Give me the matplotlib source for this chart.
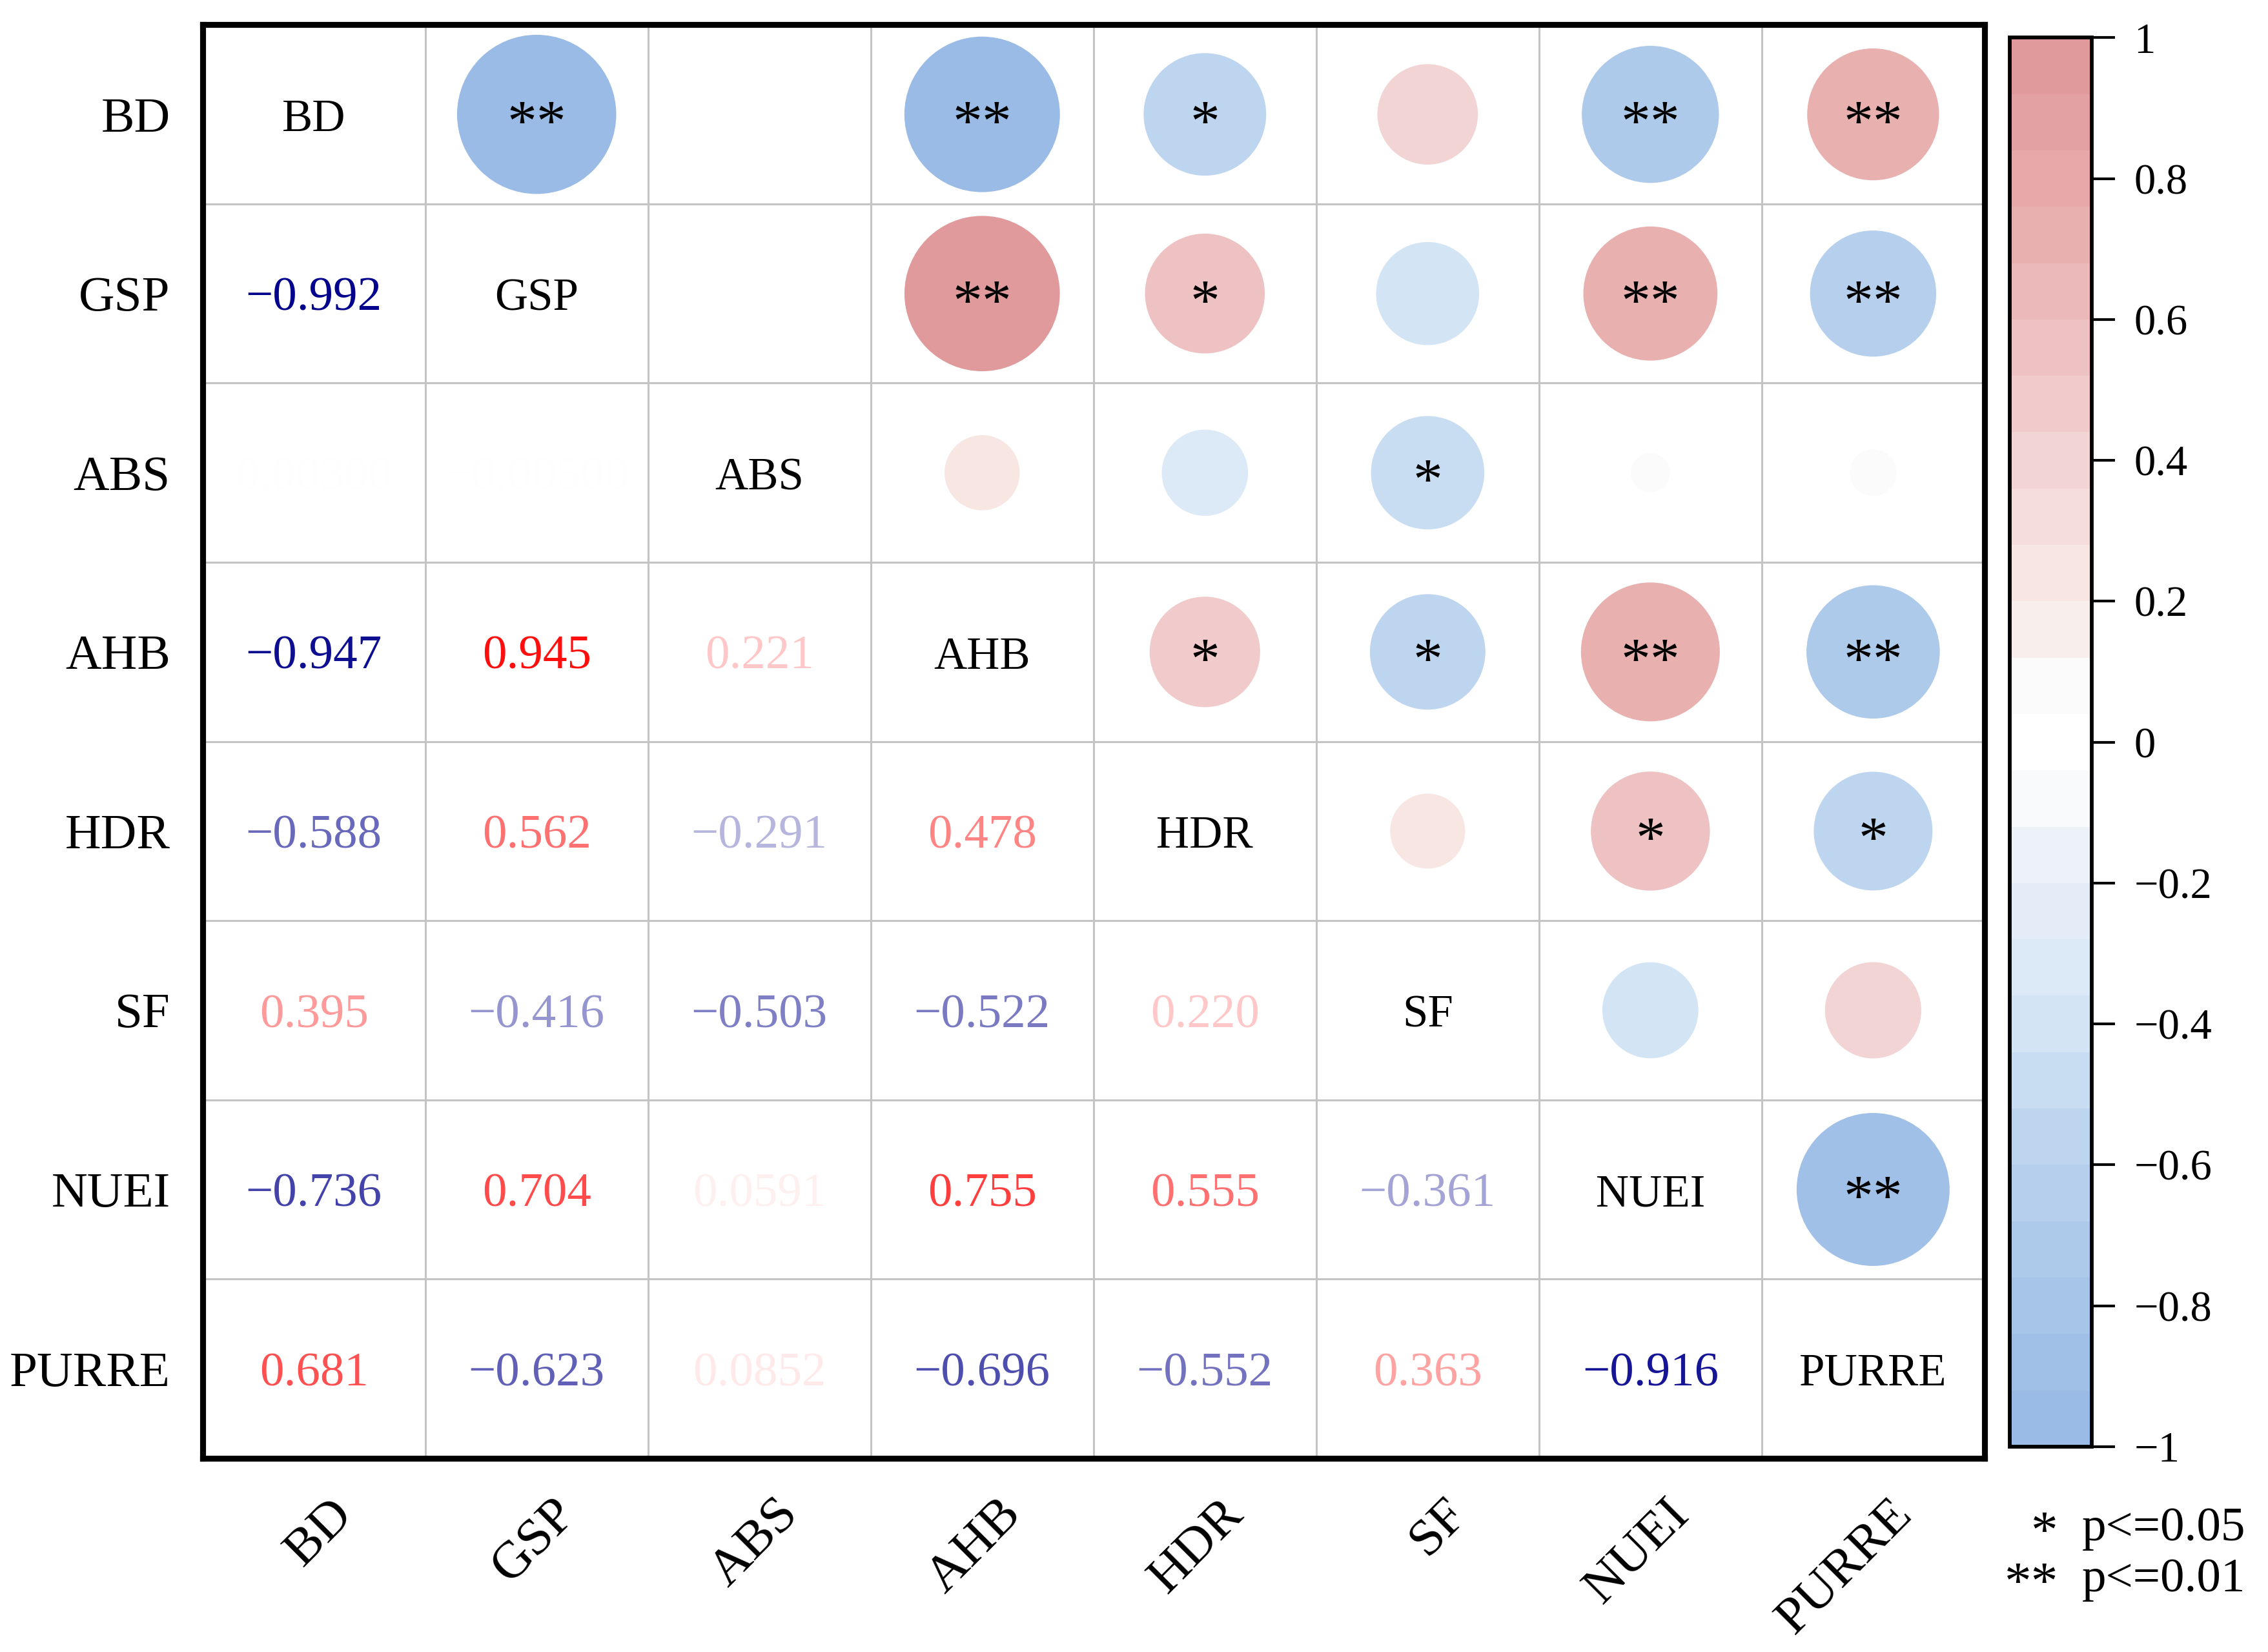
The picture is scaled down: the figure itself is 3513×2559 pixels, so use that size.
import numpy as np
import matplotlib
matplotlib.use("Agg")
import matplotlib.pyplot as plt
from matplotlib.colors import LinearSegmentedColormap, Normalize, to_rgb
from matplotlib.cm import ScalarMappable
from matplotlib.transforms import ScaledTranslation

plt.rcParams.update(
    {
        "font.family": ["Liberation Serif", "DejaVu Serif"],
        "axes.unicode_minus": True,
    }
)

variables = ["BD", "GSP", "ABS", "AHB", "HDR", "SF", "NUEI", "PURRE"]

# pearson r, symmetric (BD/GSP vs ABS are ~0, unreadable in the source)
corr = [
    [1.000, -0.992, 0.003, -0.947, -0.588, 0.395, -0.736, 0.681],
    [-0.992, 1.000, -0.005, 0.945, 0.562, -0.416, 0.704, -0.623],
    [0.003, -0.005, 1.000, 0.221, -0.291, -0.503, 0.0591, 0.0852],
    [-0.947, 0.945, 0.221, 1.000, 0.478, -0.522, 0.755, -0.696],
    [-0.588, 0.562, -0.291, 0.478, 1.000, 0.220, 0.555, -0.552],
    [0.395, -0.416, -0.503, -0.522, 0.220, 1.000, -0.361, 0.363],
    [-0.736, 0.704, 0.0591, 0.755, 0.555, -0.361, 1.000, -0.916],
    [0.681, -0.623, 0.0852, -0.696, -0.552, 0.363, -0.916, 1.000],
]

signif = [
    ["", "**", "", "**", "*", "", "**", "**"],
    ["**", "", "", "**", "*", "", "**", "**"],
    ["", "", "", "", "", "*", "", ""],
    ["**", "**", "", "", "*", "*", "**", "**"],
    ["*", "*", "", "*", "", "", "*", "*"],
    ["", "", "*", "*", "", "", "", ""],
    ["**", "**", "", "**", "*", "", "", "**"],
    ["**", "**", "", "**", "*", "", "**", ""],
]

cbar_ticks = [1, 0.8, 0.6, 0.4, 0.2, 0, -0.2, -0.4, -0.6, -0.8, -1]
cbar_labels = ["1", "0.8", "0.6", "0.4", "0.2", "0",
               "\u22120.2", "\u22120.4", "\u22120.6", "\u22120.8", "\u22121"]

legend_marks = ["*", "**"]
legend_texts = ["p<=0.05", "p<=0.01"]

# colour stops given as (r value, colour)
cmap_stops = [
    (-1.0, "#9abbe5"), (-0.8, "#a9c6ea"), (-0.6, "#bcd4ef"),
    (-0.4, "#d5e5f5"), (-0.2, "#e9f0f8"), (-0.1, "#f4f6f9"),
    (-0.06, "#ffffff"), (0.07, "#ffffff"), (0.1, "#f8f5f5"),
    (0.2, "#f8ebe6"), (0.4, "#f4d6d6"), (0.6, "#edc0c0"),
    (0.8, "#e7aaaa"), (0.9, "#e5a3a4"), (1.0, "#e09a9c"),
]
circle_cmap = LinearSegmentedColormap.from_list(
    "corr_circles", [((v + 1) / 2, c) for v, c in cmap_stops], N=25
)
norm = Normalize(vmin=-1, vmax=1)


def text_color(r):
    base = np.array(to_rgb("#ff0000" if r > 0 else "#00008b"))
    t = min(abs(r), 1.0)
    return tuple(np.ones(3) * (1 - t) + base * t)


def fmt(r):
    return f"{r:#.3g}".replace("-", "\u2212")


def main():
    n = len(variables)
    fig = plt.figure(figsize=(11.71, 8.53), dpi=300)
    ax = fig.add_axes([0.0893, 0.1173, 0.7857, 0.8677])
    ax.set_xlim(-0.5, n - 0.5)
    ax.set_ylim(n - 0.5, -0.5)

    for k in range(1, n):
        ax.axhline(k - 0.5, color="#c4c4c4", lw=0.75, zorder=1)
        ax.axvline(k - 0.5, color="#c4c4c4", lw=0.75, zorder=1)

    down_txt = ax.transData + ScaledTranslation(0, -2 / 72, fig.dpi_scale_trans)
    down_star = ax.transData + ScaledTranslation(0, -4.5 / 72, fig.dpi_scale_trans)

    xs, ys, vals = [], [], []
    for i in range(n):
        for j in range(n):
            r = corr[i][j]
            if i == j:
                ax.text(j, i, variables[i], ha="center", va="center",
                        fontsize=17, zorder=4, transform=down_txt)
            elif i > j:
                ax.text(j, i, fmt(r), ha="center", va="center",
                        fontsize=18, color=text_color(r), zorder=4,
                        transform=down_txt)
            else:
                xs.append(j)
                ys.append(i)
                vals.append(r)

    vals = np.array(vals)
    ax.scatter(xs, ys, s=3530 * np.abs(vals), c=vals, cmap=circle_cmap,
               norm=norm, edgecolors="none", zorder=3)

    for i in range(n):
        for j in range(i + 1, n):
            if signif[i][j]:
                ax.text(j, i, signif[i][j], ha="center", va="center",
                        fontsize=22, zorder=5, transform=down_star)

    ax.set_xticks(range(n))
    ax.set_xticklabels(variables, rotation=45, ha="right", va="top", fontsize=19.5)
    ax.set_yticks(range(n))
    ax.set_yticklabels(variables, fontsize=18.5)
    ax.tick_params(axis="x", length=0, pad=12)
    ax.tick_params(axis="y", length=0, pad=12)
    shift = ScaledTranslation(18 / 72, 0, fig.dpi_scale_trans)
    for lbl in ax.get_xticklabels():
        lbl.set_transform(lbl.get_transform() + shift)

    for sp in ax.spines.values():
        sp.set_linewidth(2.2)
        sp.set_color("black")

    cax = fig.add_axes([0.886, 0.1243, 0.0364, 0.8529])
    sm = ScalarMappable(norm=norm, cmap=circle_cmap)
    cb = fig.colorbar(sm, cax=cax, ticks=cbar_ticks)
    cb.set_ticklabels(cbar_labels)
    cb.outline.set_linewidth(1.4)
    cax.tick_params(length=8.6, width=1.0, pad=7, labelsize=16)

    for k, (mark, txt) in enumerate(zip(legend_marks, legend_texts)):
        y = 0.0745 - k * 0.031
        fig.text(0.9075, y, mark, ha="right", va="center_baseline", fontsize=20)
        fig.text(0.918, y, txt, ha="left", va="center", fontsize=18)

    fig.savefig("out.png", dpi=300, facecolor="white")
    plt.close(fig)


if __name__ == "__main__":
    main()
